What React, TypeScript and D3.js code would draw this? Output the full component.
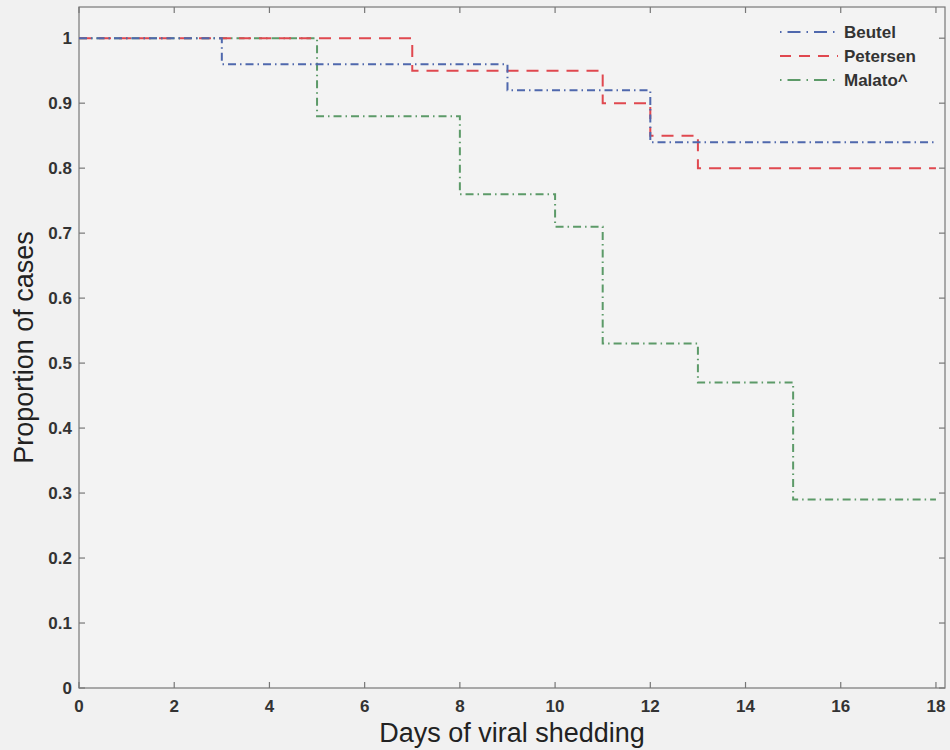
import React, { useEffect, useRef } from 'react';
import * as d3 from 'd3';

// step data: [day, proportion] — value holds until the next day
const beutel: [number, number][] = [[0, 1], [3, 0.96], [9, 0.92], [12, 0.84], [18, 0.84]];
const petersen: [number, number][] = [[0, 1], [7, 0.95], [11, 0.9], [12, 0.85], [13, 0.8], [18, 0.8]];
const malato: [number, number][] = [[0, 1], [5, 0.88], [8, 0.76], [10, 0.71], [11, 0.53], [13, 0.47], [15, 0.29], [18, 0.29]];

const seriesNames = ['Beutel', 'Petersen', 'Malato^'];
const seriesColors = ['#4f68ad', '#e0484f', '#5c9a68'];
const seriesDash = ['8,4,1.5,4', '12,8', '8,4,1.5,4'];

const xTicks = [0, 2, 4, 6, 8, 10, 12, 14, 16, 18];
const yTicks = [0, 0.1, 0.2, 0.3, 0.4, 0.5, 0.6, 0.7, 0.8, 0.9, 1];

const App = () => {
  const ref = useRef<SVGSVGElement>(null);

  useEffect(() => {
    const svg = d3.select(ref.current);
    svg.selectAll('*').remove();

    const left = 79, right = 945, top = 7, bottom = 688;
    const x = d3.scaleLinear().domain([0, 18.19]).range([left, right]);
    const y = d3.scaleLinear().domain([0, 1.048]).range([bottom, top]);

    svg.append('rect').attr('width', 950).attr('height', 750).attr('fill', '#f1f1f1');

    // plot box
    svg.append('rect')
      .attr('x', left).attr('y', top)
      .attr('width', right - left).attr('height', bottom - top)
      .attr('fill', '#f3f3f3')
      .attr('stroke', '#777').attr('stroke-width', 1.2);

    const tickLen = 6;
    const ticks = svg.append('g').attr('stroke', '#777').attr('stroke-width', 1.2);
    xTicks.forEach(t => {
      ticks.append('line').attr('x1', x(t)).attr('x2', x(t)).attr('y1', bottom).attr('y2', bottom - tickLen);
      ticks.append('line').attr('x1', x(t)).attr('x2', x(t)).attr('y1', top).attr('y2', top + tickLen);
    });
    yTicks.forEach(t => {
      ticks.append('line').attr('x1', left).attr('x2', left + tickLen).attr('y1', y(t)).attr('y2', y(t));
      ticks.append('line').attr('x1', right).attr('x2', right - tickLen).attr('y1', y(t)).attr('y2', y(t));
    });

    const labelFont = '"Liberation Sans", Arial, sans-serif';

    svg.append('g').selectAll('text').data(xTicks).join('text')
      .attr('x', d => x(d)).attr('y', 712)
      .attr('text-anchor', 'middle')
      .attr('font-family', labelFont).attr('font-weight', 'bold').attr('font-size', 17)
      .attr('fill', '#333')
      .text(d => d);

    svg.append('g').selectAll('text').data(yTicks).join('text')
      .attr('x', 72).attr('y', d => y(d)).attr('dy', '0.36em')
      .attr('text-anchor', 'end')
      .attr('font-family', labelFont).attr('font-weight', 'bold').attr('font-size', 17)
      .attr('fill', '#333')
      .text(d => d3.format('~g')(d));

    svg.append('text')
      .attr('x', 512).attr('y', 742)
      .attr('text-anchor', 'middle')
      .attr('font-family', labelFont).attr('font-size', 27).attr('fill', '#222')
      .text('Days of viral shedding');

    svg.append('text')
      .attr('transform', `translate(33,${(top + bottom) / 2}) rotate(-90)`)
      .attr('text-anchor', 'middle')
      .attr('font-family', labelFont).attr('font-size', 27).attr('fill', '#222')
      .text('Proportion of cases');

    const line = d3.line<[number, number]>()
      .x(d => x(d[0])).y(d => y(d[1]))
      .curve(d3.curveStepAfter);

    // draw Malato first so the others sit on top, as in the original
    const order = [2, 1, 0];
    const allSeries = [beutel, petersen, malato];
    order.forEach(i => {
      svg.append('path')
        .attr('d', line(allSeries[i]))
        .attr('fill', 'none')
        .attr('stroke', seriesColors[i])
        .attr('stroke-width', 2)
        .attr('stroke-dasharray', seriesDash[i]);
    });

    // legend
    const lg = svg.append('g');
    seriesNames.forEach((name, i) => {
      const ly = 32 + i * 24;
      lg.append('line')
        .attr('x1', 780).attr('x2', 838).attr('y1', ly).attr('y2', ly)
        .attr('stroke', seriesColors[i]).attr('stroke-width', 2)
        .attr('stroke-dasharray', i === 1 ? '11,8' : '1.5,6,13,6');
      lg.append('text')
        .attr('x', 844).attr('y', ly).attr('dy', '0.36em')
        .attr('font-family', labelFont).attr('font-weight', 'bold').attr('font-size', 17)
        .attr('fill', '#333')
        .text(name);
    });
  }, []);

  return (
    <svg ref={ref} width={950} height={750}
      style={{ position: 'absolute', left: 0, top: 0, display: 'block' }} />
  );
};

export default App;
